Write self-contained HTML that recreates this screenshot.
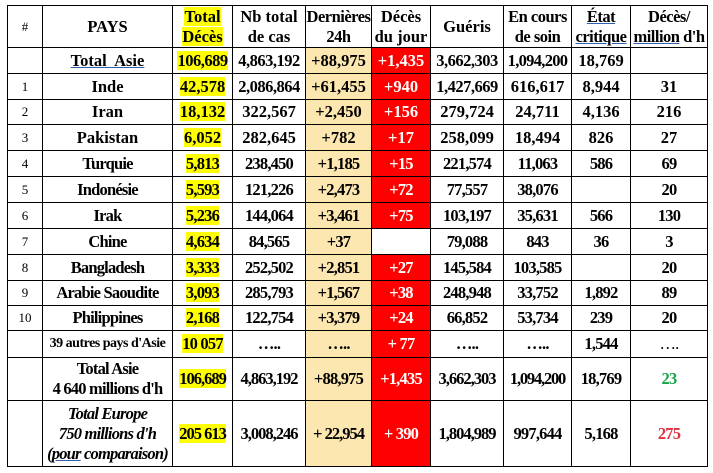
<!DOCTYPE html>
<html><head><meta charset="utf-8"><style>
body{margin:0;background:#fff;width:713px;height:473px;overflow:hidden}
table{position:absolute;left:7px;top:5px;border-collapse:collapse;table-layout:fixed;font-family:"Liberation Serif",serif;font-weight:bold;font-size:16.5px;color:#000}
td{border:1.5px solid #000;text-align:center;padding:0;overflow:hidden;white-space:nowrap;line-height:20px}
td.n{font-weight:normal;font-size:13px;letter-spacing:0}
.y{background:#ffff00}
.o{background:#fde7b0}
.r{background:#ff0000;color:#fff}
.c{letter-spacing:-0.8px}
.sm{font-size:14px;letter-spacing:-0.5px}
u{text-decoration-color:#2f5fb0}
.g{color:#1aa34a}.rd{color:#e03040}
</style></head><body>
<table>
<colgroup><col style="width:35px"><col style="width:130px"><col style="width:60px"><col style="width:73px"><col style="width:66px"><col style="width:59px"><col style="width:73px"><col style="width:68px"><col style="width:59px"><col style="width:77px"></colgroup>
<tr style="height:42px"><td class="n">#</td><td>PAYS</td><td><span class="y">Total<br>Décès</span></td><td>Nb total<br>de cas</td><td style="letter-spacing:-0.5px">Dernières<br>24h</td><td>Décès<br>du jour</td><td>Guéris</td><td style="letter-spacing:-0.5px">En cours<br>de soin</td><td style="letter-spacing:-0.5px"><u>État<br>critique</u></td><td style="letter-spacing:-0.5px">Décès/<br><u>million</u> d'h</td></tr>
<tr style="height:26px"><td></td><td><u>Total&nbsp; Asie</u></td><td style="letter-spacing:-0.5px"><span class="y">106,689</span></td><td style="letter-spacing:-0.5px">4,863,192</td><td class="o">+88,975</td><td class="r">+1,435</td><td style="letter-spacing:-0.5px">3,662,303</td><td style="letter-spacing:-0.7px">1,094,200</td><td>18,769</td><td></td></tr>
<tr style="height:26px"><td class="n">1</td><td>Inde</td><td><span class="y">42,578</span></td><td style="letter-spacing:-0.5px">2,086,864</td><td class="o">+61,455</td><td class="r">+940</td><td style="letter-spacing:-0.5px">1,427,669</td><td>616,617</td><td>8,944</td><td>31</td></tr>
<tr style="height:25px"><td class="n">2</td><td>Iran</td><td><span class="y">18,132</span></td><td>322,567</td><td class="o">+2,450</td><td class="r">+156</td><td>279,724</td><td>24,711</td><td>4,136</td><td>216</td></tr>
<tr style="height:26px"><td class="n">3</td><td>Pakistan</td><td><span class="y">6,052</span></td><td>282,645</td><td class="o">+782</td><td class="r">+17</td><td>258,099</td><td>18,494</td><td>826</td><td>27</td></tr>
<tr style="height:26px" class="c"><td class="n">4</td><td>Turquie</td><td><span class="y">5,813</span></td><td>238,450</td><td class="o">+1,185</td><td class="r">+15</td><td>221,574</td><td>11,063</td><td>586</td><td>69</td></tr>
<tr style="height:26px" class="c"><td class="n">5</td><td>Indonésie</td><td><span class="y">5,593</span></td><td>121,226</td><td class="o">+2,473</td><td class="r">+72</td><td>77,557</td><td>38,076</td><td></td><td>20</td></tr>
<tr style="height:26px" class="c"><td class="n">6</td><td>Irak</td><td><span class="y">5,236</span></td><td>144,064</td><td class="o">+3,461</td><td class="r">+75</td><td>103,197</td><td>35,631</td><td>566</td><td>130</td></tr>
<tr style="height:26px" class="c"><td class="n">7</td><td>Chine</td><td><span class="y">4,634</span></td><td>84,565</td><td class="o">+37</td><td></td><td>79,088</td><td>843</td><td>36</td><td>3</td></tr>
<tr style="height:26px" class="c"><td class="n">8</td><td>Bangladesh</td><td><span class="y">3,333</span></td><td>252,502</td><td class="o">+2,851</td><td class="r">+27</td><td>145,584</td><td>103,585</td><td></td><td>20</td></tr>
<tr style="height:25px" class="c"><td class="n">9</td><td>Arabie Saoudite</td><td><span class="y">3,093</span></td><td>285,793</td><td class="o">+1,567</td><td class="r">+38</td><td>248,948</td><td>33,752</td><td>1,892</td><td>89</td></tr>
<tr style="height:25px" class="c"><td class="n">10</td><td>Philippines</td><td><span class="y">2,168</span></td><td>122,754</td><td class="o">+3,379</td><td class="r">+24</td><td>66,852</td><td>53,734</td><td>239</td><td>20</td></tr>
<tr style="height:27px" class="c"><td></td><td class="sm">39 autres pays d'Asie</td><td><span class="y">10 057</span></td><td>…..</td><td class="o">…..</td><td class="r">+ 77</td><td>…..</td><td>…..</td><td>1,544</td><td style="font-weight:normal">….</td></tr>
<tr style="height:43px" class="c"><td></td><td>Total Asie<br>4 640 millions d'h</td><td style="letter-spacing:-1px"><span class="y">106,689</span></td><td style="letter-spacing:-1px">4,863,192</td><td class="o">+88,975</td><td class="r">+1,435</td><td style="letter-spacing:-1px">3,662,303</td><td style="letter-spacing:-1.2px">1,094,200</td><td>18,769</td><td class="g">23</td></tr>
<tr style="height:66px" class="c"><td></td><td style="font-style:italic">Total Europe<br>750 millions d'h<br>(<u>pour</u> comparaison)</td><td style="letter-spacing:-1px"><span class="y">205 613</span></td><td style="letter-spacing:-1px">3,008,246</td><td class="o" style="letter-spacing:-1px">+ 22,954</td><td class="r">+ 390</td><td style="letter-spacing:-1px">1,804,989</td><td>997,644</td><td>5,168</td><td class="rd">275</td></tr>
</table>
</body></html>
